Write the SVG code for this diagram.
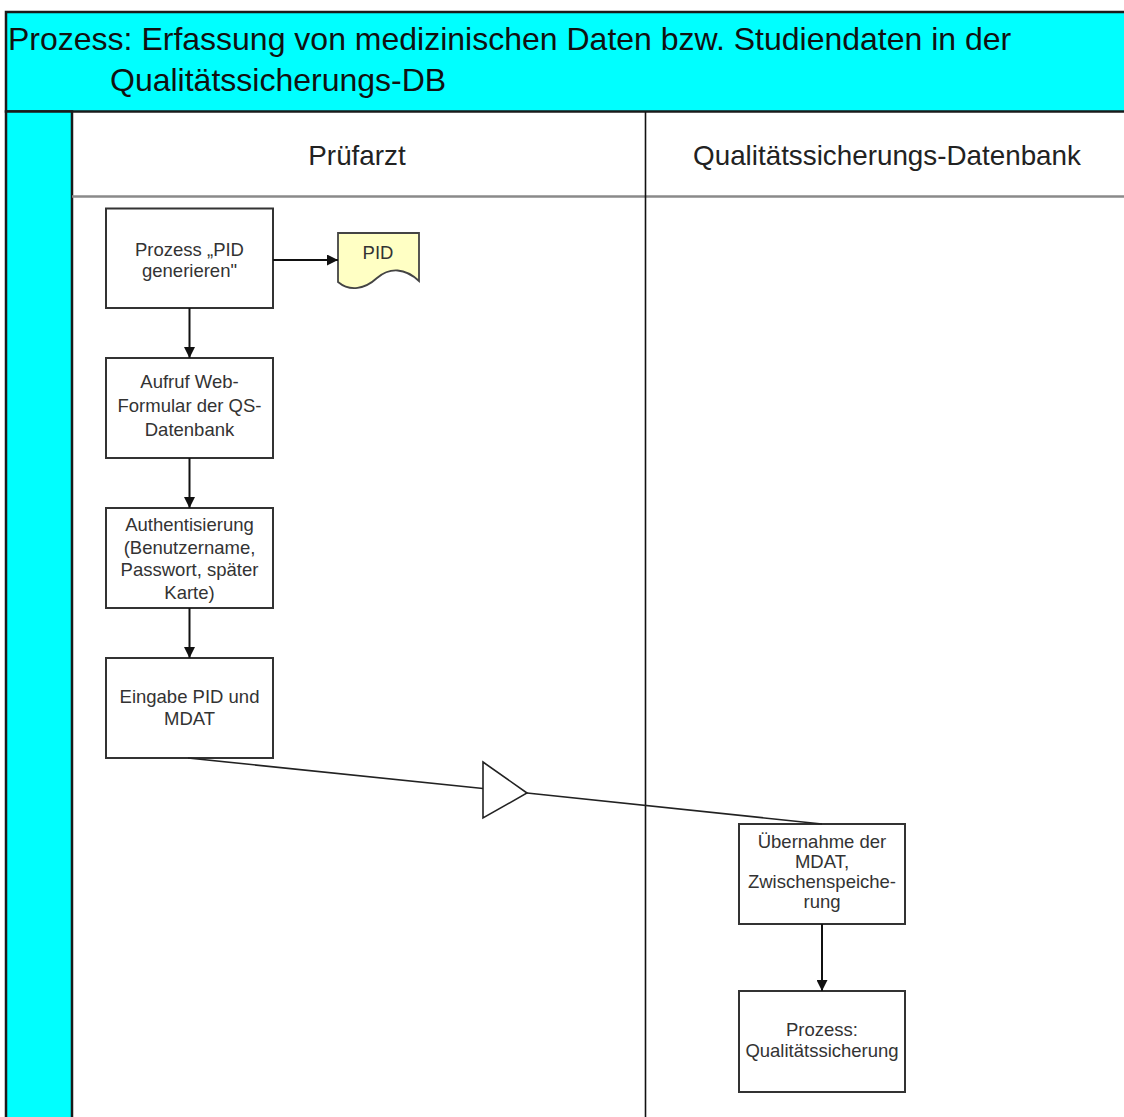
<svg xmlns="http://www.w3.org/2000/svg" width="1124" height="1117" viewBox="0 0 1124 1117">
  <defs>
    <marker id="arrow" viewBox="0 0 10 10" refX="10" refY="5" markerWidth="11" markerHeight="11" markerUnits="userSpaceOnUse" orient="auto">
      <path d="M0,0 L10,5 L0,10 Z" fill="#111"/>
    </marker>
    <style>
      .frame { fill: #00ffff; stroke: #1a1a1a; stroke-width: 2.5; }
      .title { font-family: "Liberation Sans", Arial, sans-serif; font-size: 32px; fill: #111; }
      .lane-head { font-family: "Liberation Sans", Arial, sans-serif; font-size: 27.8px; fill: #222; text-anchor: middle; }
      .box { fill: #fff; stroke: #333; stroke-width: 2; }
      .doc { fill: #ffffc4; stroke: #444; stroke-width: 1.8; }
      .label { font-family: "Liberation Sans", Arial, sans-serif; font-size: 18.5px; fill: #333; text-anchor: middle; }
      .conn { fill: none; stroke: #111; stroke-width: 2; }
      .flow { fill: none; stroke: #222; stroke-width: 1.6; }
    </style>
  </defs>

  <rect width="1124" height="1117" fill="#fff"/>

  <!-- pool frame: title band and left stripe -->
  <g id="pool">
    <rect class="frame" x="6" y="12" width="1130" height="99.5"/>
    <rect class="frame" x="6" y="111.5" width="66" height="1020"/>
    <text class="title" x="8" y="50">Prozess: Erfassung von medizinischen Daten bzw. Studiendaten in der</text>
    <text class="title" x="110" y="91">Qualitätssicherungs-DB</text>
  </g>

  <!-- swimlanes -->
  <g id="lanes">
    <line x1="72" y1="196.5" x2="1124" y2="196.5" stroke="#8a8a8a" stroke-width="2.5"/>
    <line x1="645.5" y1="112" x2="645.5" y2="1117" stroke="#111" stroke-width="1.6"/>
    <text class="lane-head" x="357" y="165">Prüfarzt</text>
    <text class="lane-head" x="887" y="165">Qualitätssicherungs-Datenbank</text>
  </g>

  <g id="pid-generieren">
    <rect class="box" x="106" y="208.5" width="167" height="99.5"/>
    <text class="label" x="189.5" y="256">Prozess „PID</text>
    <text class="label" x="189.5" y="277">generieren"</text>
  </g>

  <g id="pid-doc">
    <path class="doc" d="M338,233 H419 V281 C405,268 390,267 377,278 C365,289 350,292 338,282 Z"/>
    <text class="label" x="378" y="258.5">PID</text>
  </g>

  <g id="web-formular">
    <rect class="box" x="106" y="358" width="167" height="100"/>
    <text class="label" x="189.5" y="388">Aufruf Web-</text>
    <text class="label" x="189.5" y="412">Formular der QS-</text>
    <text class="label" x="189.5" y="436">Datenbank</text>
  </g>

  <g id="authentisierung">
    <rect class="box" x="106" y="508" width="167" height="100"/>
    <text class="label" x="189.5" y="531">Authentisierung</text>
    <text class="label" x="189.5" y="553.5">(Benutzername,</text>
    <text class="label" x="189.5" y="576">Passwort, später</text>
    <text class="label" x="189.5" y="598.5">Karte)</text>
  </g>

  <g id="eingabe">
    <rect class="box" x="106" y="658" width="167" height="100"/>
    <text class="label" x="189.5" y="703">Eingabe PID und</text>
    <text class="label" x="189.5" y="725">MDAT</text>
  </g>

  <g id="uebernahme">
    <rect class="box" x="739" y="824" width="166" height="100"/>
    <text class="label" x="822" y="848">Übernahme der</text>
    <text class="label" x="822" y="868">MDAT,</text>
    <text class="label" x="822" y="888">Zwischenspeiche-</text>
    <text class="label" x="822" y="908">rung</text>
  </g>

  <g id="qualitaetssicherung">
    <rect class="box" x="739" y="991" width="166" height="101"/>
    <text class="label" x="822" y="1036">Prozess:</text>
    <text class="label" x="822" y="1057">Qualitätssicherung</text>
  </g>

  <!-- connectors -->
  <g id="connectors">
    <line class="conn" x1="273" y1="260" x2="338" y2="260" marker-end="url(#arrow)"/>
    <line class="conn" x1="189.5" y1="308" x2="189.5" y2="358" marker-end="url(#arrow)"/>
    <line class="conn" x1="189.5" y1="458" x2="189.5" y2="508" marker-end="url(#arrow)"/>
    <line class="conn" x1="189.5" y1="608" x2="189.5" y2="658" marker-end="url(#arrow)"/>
    <line class="conn" x1="822" y1="924" x2="822" y2="991" marker-end="url(#arrow)"/>
    <!-- message flow from Eingabe to Übernahme with open triangle -->
    <line class="flow" x1="188" y1="758" x2="483" y2="788.5"/>
    <polygon class="flow" fill="#fff" points="483,762 527,793 483,818"/>
    <line class="flow" x1="527" y1="793" x2="822" y2="824"/>
  </g>
</svg>
